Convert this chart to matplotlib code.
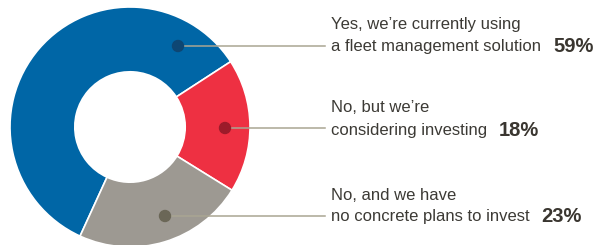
import matplotlib
matplotlib.use('Agg')
from matplotlib import pyplot as plt
from matplotlib.patches import Circle

# data
answers_top = ['Yes, we\u2019re currently using', 'No, but we\u2019re', 'No, and we have']
answers_bottom = ['a fleet management solution', 'considering investing', 'no concrete plans to invest']
shares = [59, 18, 23]
colors = ['#0066a6', '#ee3042', '#9d9992']
dot_colors = ['#0e4673', '#9c1b2a', '#6b6757']

plt.rcParams['font.family'] = ['Liberation Sans', 'DejaVu Sans']

fig = plt.figure(figsize=(6, 2.45), dpi=100)
ax = fig.add_axes([0, 0, 1, 1])
ax.set_xlim(0, 600)
ax.set_ylim(0, 245)
ax.set_aspect('equal')
ax.axis('off')

# donut (pixel coords, y up)
cx, cy, r = 130, 118, 120
wedges, _ = ax.pie(shares, colors=colors, startangle=33 + 3.6 * shares[0],
                   counterclock=False, center=(cx, cy), radius=r,
                   wedgeprops=dict(width=r * 0.54, edgecolor='white', linewidth=1.2))
ax.set_xlim(0, 600)
ax.set_ylim(0, 245)

dots = [(178, 199), (225, 117), (165, 29)]
line_end = 325
text_x = 331
text_y = [(220, 198), (137, 115), (50, 28)]

fig.canvas.draw()
renderer = fig.canvas.get_renderer()
for i in range(3):
    dx, dy = dots[i]
    ax.plot([dx, line_end], [dy, dy], color='#aaa592', lw=1.1, zorder=3)
    ax.add_patch(Circle((dx, dy), 5.5, color=dot_colors[i], zorder=4))
    y1, y2 = text_y[i]
    ax.text(text_x, y1, answers_top[i], fontsize=12, color='#3c3a35', va='center')
    t = ax.text(text_x, y2, answers_bottom[i], fontsize=12, color='#3c3a35', va='center')
    bb = t.get_window_extent(renderer=renderer)
    ax.text(bb.x1 + 12, y2, '%d%%' % shares[i], fontsize=14.5, fontweight='bold',
            color='#3a3630', va='center')

plt.savefig('out.png', dpi=100)
